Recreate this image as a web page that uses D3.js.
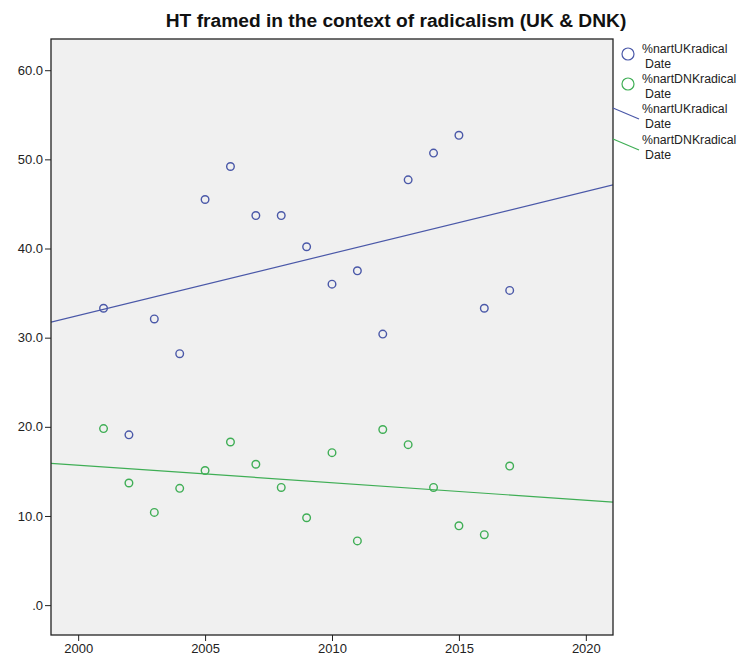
<!DOCTYPE html>
<html>
<head>
<meta charset="utf-8">
<script src="https://cdn.jsdelivr.net/npm/d3@7"></script>
<style>
  html, body { margin: 0; padding: 0; background: #ffffff; }
  svg { display: block; font-family: Arial, "Liberation Sans", sans-serif; }
</style>
</head>
<body>
<svg id="chart" width="747" height="662"></svg>
<script>
// Share of articles framing HT in the context of radicalism, per year
const years = [2001, 2002, 2003, 2004, 2005, 2006, 2007, 2008, 2009, 2010, 2011, 2012, 2013, 2014, 2015, 2016, 2017];
const ukValues = [33.3, 19.1, 32.1, 28.2, 45.5, 49.2, 43.7, 43.7, 40.2, 36.0, 37.5, 30.4, 47.7, 50.7, 52.7, 33.3, 35.3];
const dnkValues = [19.8, 13.7, 10.4, 13.1, 15.1, 18.3, 15.8, 13.2, 9.8, 17.1, 7.2, 19.7, 18.0, 13.2, 8.9, 7.9, 15.6];

const xTicks = [2000, 2005, 2010, 2015, 2020];
const yTicks = [0, 10, 20, 30, 40, 50, 60];
const yTickLabels = [".0", "10.0", "20.0", "30.0", "40.0", "50.0", "60.0"];

const seriesNames = ["%nartUKradical", "%nartDNKradical"];
const seriesSubLabel = "Date";
const title = "HT framed in the context of radicalism (UK & DNK)";

const colors = { uk: "#4a58a8", dnk: "#3fae55" };

const svg = d3.select("#chart");
const plot = { left: 51, right: 613, top: 39, bottom: 635 };

const x = d3.scaleLinear().domain([1998.93, 2021.07]).range([plot.left, plot.right]);
const y = d3.scaleLinear().domain([-3.35, 63.5]).range([plot.bottom, plot.top]);

// Title
svg.append("text")
  .attr("x", 396).attr("y", 27)
  .attr("text-anchor", "middle")
  .attr("font-weight", "bold")
  .attr("font-size", 19.2)
  .attr("fill", "#111")
  .text(title);

// Plot background
svg.append("rect")
  .attr("x", plot.left).attr("y", plot.top)
  .attr("width", plot.right - plot.left).attr("height", plot.bottom - plot.top)
  .attr("fill", "#f0f0f0");

svg.append("clipPath").attr("id", "clip")
  .append("rect")
  .attr("x", plot.left).attr("y", plot.top)
  .attr("width", plot.right - plot.left).attr("height", plot.bottom - plot.top);

// Axes
const yAxis = d3.axisLeft(y).tickValues(yTicks).tickSize(6).tickPadding(2)
  .tickFormat((d, i) => yTickLabels[i]);
const gy = svg.append("g").attr("transform", `translate(${plot.left},0)`).call(yAxis);
gy.select(".domain").remove();
gy.selectAll("line").attr("stroke", "#222");
gy.selectAll("text").attr("font-size", 13).attr("fill", "#222")
  .attr("font-family", "Arial, 'Liberation Sans', sans-serif");

const xAxis = d3.axisBottom(x).tickValues(xTicks).tickSize(6).tickPadding(3)
  .tickFormat(d3.format("d"));
const gx = svg.append("g").attr("transform", `translate(0,${plot.bottom})`).call(xAxis);
gx.select(".domain").remove();
gx.selectAll("line").attr("stroke", "#222");
gx.selectAll("text").attr("font-size", 13).attr("fill", "#222")
  .attr("font-family", "Arial, 'Liberation Sans', sans-serif");

// Least-squares fit lines
function linearFit(xs, ys) {
  const mx = d3.mean(xs), my = d3.mean(ys);
  let sxy = 0, sxx = 0;
  xs.forEach((v, i) => { sxy += (v - mx) * (ys[i] - my); sxx += (v - mx) * (v - mx); });
  const b = sxy / sxx;
  return t => my + b * (t - mx);
}
const fitUK = linearFit(years, ukValues);
const fitDNK = linearFit(years, dnkValues);
const [x0, x1] = x.domain();

const lines = svg.append("g").attr("clip-path", "url(#clip)");
[[fitUK, colors.uk], [fitDNK, colors.dnk]].forEach(([f, c]) => {
  lines.append("line")
    .attr("x1", x(x0)).attr("y1", y(f(x0)))
    .attr("x2", x(x1)).attr("y2", y(f(x1)))
    .attr("stroke", c).attr("stroke-width", 1.2);
});

// Points
const pts = svg.append("g");
pts.selectAll("circle.uk").data(years.map((yr, i) => [yr, ukValues[i]]))
  .join("circle").attr("class", "uk")
  .attr("cx", d => x(d[0])).attr("cy", d => y(d[1])).attr("r", 3.8)
  .attr("fill", "none").attr("stroke", colors.uk).attr("stroke-width", 1.4);
pts.selectAll("circle.dnk").data(years.map((yr, i) => [yr, dnkValues[i]]))
  .join("circle").attr("class", "dnk")
  .attr("cx", d => x(d[0])).attr("cy", d => y(d[1])).attr("r", 3.8)
  .attr("fill", "none").attr("stroke", colors.dnk).attr("stroke-width", 1.4);

// Plot frame
svg.append("rect")
  .attr("x", plot.left).attr("y", plot.top)
  .attr("width", plot.right - plot.left).attr("height", plot.bottom - plot.top)
  .attr("fill", "none").attr("stroke", "#222").attr("stroke-width", 1.3);

// Legend
const legend = svg.append("g").attr("font-size", 12.3).attr("fill", "#222");
const items = [
  { type: "circle", name: seriesNames[0], color: colors.uk, y: 50 },
  { type: "circle", name: seriesNames[1], color: colors.dnk, y: 80 },
  { type: "line", name: seriesNames[0], color: colors.uk, y: 110 },
  { type: "line", name: seriesNames[1], color: colors.dnk, y: 141 }
];
items.forEach(it => {
  if (it.type === "circle") {
    legend.append("circle")
      .attr("cx", 628).attr("cy", it.y + 4).attr("r", 6)
      .attr("fill", "none").attr("stroke", it.color).attr("stroke-width", 1.2);
  } else {
    legend.append("line")
      .attr("x1", plot.right).attr("y1", it.y - 2)
      .attr("x2", 639).attr("y2", it.y + 9)
      .attr("stroke", it.color).attr("stroke-width", 1.2);
  }
  legend.append("text").attr("x", 642).attr("y", it.y + 3).text(it.name);
  legend.append("text").attr("x", 645).attr("y", it.y + 17.5).text(seriesSubLabel);
});
</script>
</body>
</html>
